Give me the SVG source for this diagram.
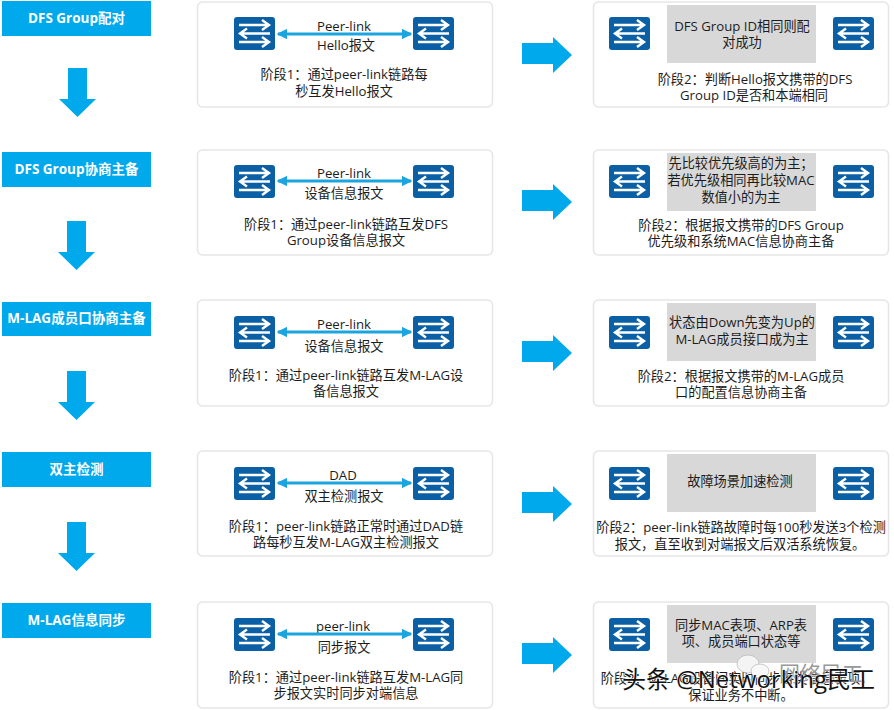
<svg xmlns="http://www.w3.org/2000/svg" width="894" height="710" viewBox="0 0 894 710">
<style>
text{font-family:"Open Sans","Noto Sans CJK SC",sans-serif;font-size:13.2px;fill:#1c1c1c;text-anchor:middle}
.lab{fill:#00a9ec}
.lt{fill:#fff;font-weight:700;font-size:13.500px}
.card{fill:#fff;stroke:#e6e6e6;stroke-width:1.6}
.grey{fill:#d8d8d8}
.arrow{fill:#00a9ec}
.link{stroke:#1ba5e0;stroke-width:3;fill:none;marker-start:url(#ms);marker-end:url(#me)}
.wm{fill:#111;stroke:#fff;stroke-width:1;font-size:24px;paint-order:stroke;text-anchor:start}
.wm2{fill:#999;font-size:21px;text-anchor:start}
</style>
<defs>
<marker id="me" viewBox="0 0 8 8" refX="7" refY="4" markerWidth="3.500" markerHeight="3.500" orient="auto"><path d="M0 0L8 4L0 8Z" fill="#1ba5e0"/></marker>
<marker id="ms" viewBox="0 0 8 8" refX="1" refY="4" markerWidth="3.500" markerHeight="3.500" orient="auto"><path d="M8 0L0 4L8 8Z" fill="#1ba5e0"/></marker>
<symbol id="sw" viewBox="0 0 41 33" width="41" height="33">
<rect width="41" height="33" rx="3" fill="#0b5fa5"/>
<path d="M5 8H34M28 3L35 8L28 13M36 16.500H7M13 11.500L6 16.500L13 21.500M5 25H34M28 20L35 25L28 30" fill="none" stroke="#fff" stroke-width="2.400"/>
</symbol>
<path id="down" d="M68 68H87V99H96L77.500 117L59 99H68Z"/>
</defs>
<g id="steps">
<g id="step1"><rect class="lab" x="2" y="1" width="149" height="35"/><text class="lt" x="76.500" y="23">DFS Group配对</text></g>
<g id="step2"><rect class="lab" x="2" y="152" width="149" height="35"/><text class="lt" x="76.500" y="174">DFS Group协商主备</text></g>
<g id="step3"><rect class="lab" x="2" y="302" width="149" height="34"/><text class="lt" x="76.500" y="323">M-LAG成员口协商主备</text></g>
<g id="step4"><rect class="lab" x="2" y="452" width="149" height="35"/><text class="lt" x="76.500" y="474">双主检测</text></g>
<g id="step5"><rect class="lab" x="2" y="603" width="149" height="35"/><text class="lt" x="76.500" y="625">M-LAG信息同步</text></g>
</g>
<g id="down-arrows" class="arrow">
<use href="#down"/>
<use href="#down" x="-1" y="153"/>
<use href="#down" x="-1" y="303"/>
<use href="#down" x="-1" y="454"/>
</g>
<g id="right-arrows" class="arrow">
<path d="M522 43H553V37L572 55L553 73V64H522Z"/>
<path d="M522 190H553V184L572 202L553 220V211H522Z"/>
<path d="M522 341H553V335L572 353L553 371V362H522Z"/>
<path d="M522 492H553V486L572 504L553 522V513H522Z"/>
<path d="M522 643H553V637L572 655L553 673V664H522Z"/>
</g>
<g id="phase1-1"><rect class="card" x="197.500" y="2" width="295" height="105" rx="5"/>
<use href="#sw" x="234" y="17"/><use href="#sw" x="413" y="17"/>
<text x="344" y="31">Peer-link</text><text x="346" y="50">Hello报文</text>
<text x="344" y="79">阶段1：通过peer-link链路每</text><text x="344" y="96">秒互发Hello报文</text></g>
<g id="phase1-2"><rect class="card" x="197.500" y="150" width="295" height="105" rx="5"/>
<use href="#sw" x="234" y="165"/><use href="#sw" x="413" y="165"/>
<text x="344" y="178">Peer-link</text><text x="344" y="198">设备信息报文</text>
<text x="346" y="229">阶段1：通过peer-link链路互发DFS</text><text x="346" y="245">Group设备信息报文</text></g>
<g id="phase1-3"><rect class="card" x="197.500" y="300" width="295" height="106" rx="5"/>
<use href="#sw" x="234" y="316"/><use href="#sw" x="413" y="316"/>
<text x="344" y="329">Peer-link</text><text x="344" y="351">设备信息报文</text>
<text x="346" y="380">阶段1：通过peer-link链路互发M-LAG设</text><text x="346" y="396">备信息报文</text></g>
<g id="phase1-4"><rect class="card" x="197.500" y="451" width="295" height="105" rx="5"/>
<use href="#sw" x="234" y="467"/><use href="#sw" x="413" y="467"/>
<text x="343" y="480">DAD</text><text x="344" y="501">双主检测报文</text>
<text x="346" y="531">阶段1：peer-link链路正常时通过DAD链</text><text x="346" y="547">路每秒互发M-LAG双主检测报文</text></g>
<g id="phase1-5"><rect class="card" x="197.500" y="602" width="295" height="106" rx="5"/>
<use href="#sw" x="234" y="618"/><use href="#sw" x="413" y="618"/>
<text x="343" y="631">peer-link</text><text x="344" y="652">同步报文</text>
<text x="346" y="682">阶段1：通过peer-link链路互发M-LAG同</text><text x="346" y="698">步报文实时同步对端信息</text></g>
<g id="phase2-1"><rect class="card" x="593.500" y="2" width="295" height="105" rx="5"/>
<rect class="grey" x="667" y="5" width="149" height="58"/>
<use href="#sw" x="609" y="17"/><use href="#sw" x="833" y="17"/>
<text x="742" y="31">DFS Group ID相同则配</text><text x="742" y="47">对成功</text>
<text x="755" y="84">阶段2：判断Hello报文携带的DFS</text><text x="754" y="100">Group ID是否和本端相同</text></g>
<g id="phase2-2"><rect class="card" x="593.500" y="150" width="295" height="105" rx="5"/>
<rect class="grey" x="667" y="153" width="149" height="58"/>
<use href="#sw" x="609" y="165"/><use href="#sw" x="833" y="165"/>
<text x="741" y="168">先比较优先级高的为主；</text><text x="741" y="185">若优先级相同再比较MAC</text><text x="741" y="202">数值小的为主</text>
<text x="741" y="230">阶段2：根据报文携带的DFS Group</text><text x="741" y="246">优先级和系统MAC信息协商主备</text></g>
<g id="phase2-3"><rect class="card" x="593.500" y="300" width="295" height="106" rx="5"/>
<rect class="grey" x="667" y="303" width="149" height="58"/>
<use href="#sw" x="609" y="316"/><use href="#sw" x="833" y="316"/>
<text x="742" y="327">状态由Down先变为Up的</text><text x="742" y="344">M-LAG成员接口成为主</text>
<text x="741" y="381">阶段2：根据报文携带的M-LAG成员</text><text x="741" y="397">口的配置信息协商主备</text></g>
<g id="phase2-4"><rect class="card" x="593.500" y="451" width="295" height="105" rx="5"/>
<rect class="grey" x="667" y="454" width="149" height="58"/>
<use href="#sw" x="609" y="467"/><use href="#sw" x="833" y="467"/>
<text x="740" y="486">故障场景加速检测</text>
<text x="741" y="532">阶段2：peer-link链路故障时每100秒发送3个检测</text><text x="740" y="549">报文，直至收到对端报文后双活系统恢复。</text></g>
<g id="phase2-5"><rect class="card" x="593.500" y="602" width="295" height="106" rx="5"/>
<rect class="grey" x="667" y="605" width="149" height="58"/>
<use href="#sw" x="609" y="618"/><use href="#sw" x="833" y="618"/>
<text x="741" y="630">同步MAC表项、ARP表</text><text x="741" y="646">项、成员端口状态等</text>
<text x="737" y="683">阶段2：M-LAG设备间实时同步各类信息表项，</text><text x="741" y="700">保证业务不中断。</text></g>
<g id="connectors">
<path class="link" d="M278 34H411"/>
<path class="link" d="M278 181H411"/>
<path class="link" d="M278 332H411"/>
<path class="link" d="M278 483H411"/>
<path class="link" d="M278 634H411"/>
</g>
<g id="watermark">
<ellipse cx="748" cy="664" rx="11" ry="9" fill="#f4f4f4" stroke="#bbb" stroke-width=".8"/>
<ellipse cx="760" cy="671" rx="9" ry="7" fill="#f8f8f8" stroke="#bbb" stroke-width=".8"/>
<text class="wm2" x="779" y="681">网络民工</text>
<text class="wm" x="622" y="688">头条 @Networking民工</text>
</g>
</svg>
